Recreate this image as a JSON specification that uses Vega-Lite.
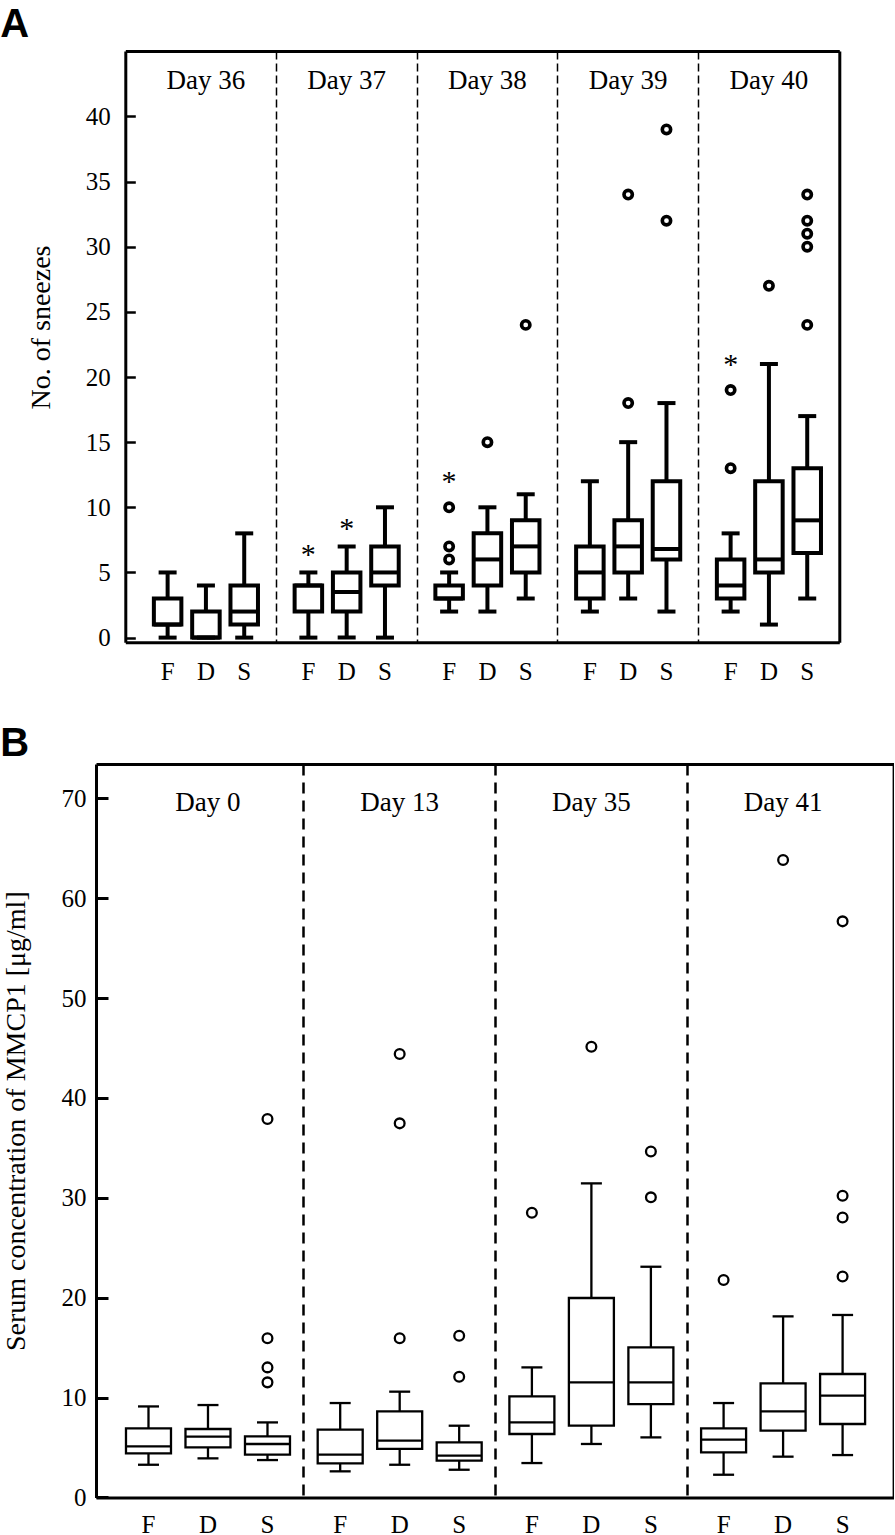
{
  "$schema": "https://vega.github.io/schema/vega-lite/v6.json",
  "background": "white",
  "padding": {"left": 0, "top": 4, "right": 0, "bottom": 0},
  "autosize": {"type": "pad"},
  "spacing": 38,
  "resolve": {"scale": {"x": "independent", "y": "independent", "xOffset": "independent"}},
  "config": {
    "view": {"stroke": null},
    "font": "Liberation Serif",
    "axis": {"labelFont": "Liberation Serif", "titleFont": "Liberation Serif", "labelColor": "black", "titleColor": "black", "domainColor": "black", "tickColor": "black", "titleFontWeight": "normal", "gridColor": "black", "gridOpacity": 1}
  },
  "datasets": {
    "boxesA": [
      {"day": "Day 36", "group": "F", "lower": 0, "q1": 1, "median": 1, "q3": 3, "upper": 5},
      {"day": "Day 36", "group": "D", "lower": 0, "q1": 0, "median": 0, "q3": 2, "upper": 4},
      {"day": "Day 36", "group": "S", "lower": 0, "q1": 1, "median": 2, "q3": 4, "upper": 8},
      {"day": "Day 37", "group": "F", "lower": 0, "q1": 2, "median": 4, "q3": 4, "upper": 5},
      {"day": "Day 37", "group": "D", "lower": 0, "q1": 2, "median": 3.5, "q3": 5, "upper": 7},
      {"day": "Day 37", "group": "S", "lower": 0, "q1": 4, "median": 5, "q3": 7, "upper": 10},
      {"day": "Day 38", "group": "F", "lower": 2, "q1": 3, "median": 3, "q3": 4, "upper": 5},
      {"day": "Day 38", "group": "D", "lower": 2, "q1": 4, "median": 6, "q3": 8, "upper": 10},
      {"day": "Day 38", "group": "S", "lower": 3, "q1": 5, "median": 7, "q3": 9, "upper": 11},
      {"day": "Day 39", "group": "F", "lower": 2, "q1": 3, "median": 5, "q3": 7, "upper": 12},
      {"day": "Day 39", "group": "D", "lower": 3, "q1": 5, "median": 7, "q3": 9, "upper": 15},
      {"day": "Day 39", "group": "S", "lower": 2, "q1": 6, "median": 6.8, "q3": 12, "upper": 18},
      {"day": "Day 40", "group": "F", "lower": 2, "q1": 3, "median": 4, "q3": 6, "upper": 8},
      {"day": "Day 40", "group": "D", "lower": 1, "q1": 5, "median": 6, "q3": 12, "upper": 21},
      {"day": "Day 40", "group": "S", "lower": 3, "q1": 6.5, "median": 9, "q3": 13, "upper": 17}
    ],
    "outliersA": [
      {"day": "Day 38", "group": "F", "value": 6},
      {"day": "Day 38", "group": "F", "value": 7},
      {"day": "Day 38", "group": "F", "value": 10},
      {"day": "Day 38", "group": "D", "value": 15},
      {"day": "Day 38", "group": "S", "value": 24},
      {"day": "Day 39", "group": "D", "value": 18},
      {"day": "Day 39", "group": "D", "value": 34},
      {"day": "Day 39", "group": "S", "value": 32},
      {"day": "Day 39", "group": "S", "value": 39},
      {"day": "Day 40", "group": "F", "value": 13},
      {"day": "Day 40", "group": "F", "value": 19},
      {"day": "Day 40", "group": "D", "value": 27},
      {"day": "Day 40", "group": "S", "value": 24},
      {"day": "Day 40", "group": "S", "value": 30},
      {"day": "Day 40", "group": "S", "value": 31},
      {"day": "Day 40", "group": "S", "value": 32},
      {"day": "Day 40", "group": "S", "value": 34}
    ],
    "starsA": [
      {"day": "Day 37", "group": "F", "top": 5, "anchor": "whisker"},
      {"day": "Day 37", "group": "D", "top": 7, "anchor": "whisker"},
      {"day": "Day 38", "group": "F", "top": 10, "anchor": "outlier"},
      {"day": "Day 40", "group": "F", "top": 19, "anchor": "outlier"}
    ],
    "boxesB": [
      {"day": "Day 0", "group": "F", "lower": 3.27, "q1": 4.41, "median": 5.11, "q3": 6.91, "upper": 9.11},
      {"day": "Day 0", "group": "D", "lower": 3.91, "q1": 5.01, "median": 6.08, "q3": 6.85, "upper": 9.25},
      {"day": "Day 0", "group": "S", "lower": 3.74, "q1": 4.28, "median": 5.35, "q3": 6.11, "upper": 7.51},
      {"day": "Day 13", "group": "F", "lower": 2.61, "q1": 3.41, "median": 4.28, "q3": 6.78, "upper": 9.45},
      {"day": "Day 13", "group": "D", "lower": 3.27, "q1": 4.85, "median": 5.68, "q3": 8.62, "upper": 10.59},
      {"day": "Day 13", "group": "S", "lower": 2.77, "q1": 3.68, "median": 4.18, "q3": 5.51, "upper": 7.18},
      {"day": "Day 35", "group": "F", "lower": 3.44, "q1": 6.35, "median": 7.51, "q3": 10.12, "upper": 13.02},
      {"day": "Day 35", "group": "D", "lower": 5.35, "q1": 7.18, "median": 11.52, "q3": 19.97, "upper": 31.45},
      {"day": "Day 35", "group": "S", "lower": 6.01, "q1": 9.35, "median": 11.52, "q3": 15.02, "upper": 23.1},
      {"day": "Day 41", "group": "F", "lower": 2.27, "q1": 4.51, "median": 5.78, "q3": 6.91, "upper": 9.45},
      {"day": "Day 41", "group": "D", "lower": 4.08, "q1": 6.68, "median": 8.61, "q3": 11.42, "upper": 18.13},
      {"day": "Day 41", "group": "S", "lower": 4.24, "q1": 7.35, "median": 10.19, "q3": 12.36, "upper": 18.27}
    ],
    "outliersB": [
      {"day": "Day 0", "group": "S", "value": 37.9},
      {"day": "Day 0", "group": "S", "value": 15.93},
      {"day": "Day 0", "group": "S", "value": 13.02},
      {"day": "Day 0", "group": "S", "value": 11.52},
      {"day": "Day 13", "group": "D", "value": 44.41},
      {"day": "Day 13", "group": "D", "value": 37.46},
      {"day": "Day 13", "group": "D", "value": 15.93},
      {"day": "Day 13", "group": "S", "value": 16.19},
      {"day": "Day 13", "group": "S", "value": 12.09},
      {"day": "Day 35", "group": "F", "value": 28.51},
      {"day": "Day 35", "group": "D", "value": 45.14},
      {"day": "Day 35", "group": "S", "value": 34.65},
      {"day": "Day 35", "group": "S", "value": 30.05},
      {"day": "Day 41", "group": "F", "value": 21.77},
      {"day": "Day 41", "group": "D", "value": 63.83},
      {"day": "Day 41", "group": "S", "value": 57.69},
      {"day": "Day 41", "group": "S", "value": 30.21},
      {"day": "Day 41", "group": "S", "value": 28.04},
      {"day": "Day 41", "group": "S", "value": 22.13}
    ]
  },
  "vconcat": [
    {
      "width": 743.3,
      "height": 591.3,
      "title": {"text": "A", "anchor": "start", "frame": "group", "font": "Liberation Sans", "fontSize": 40, "fontWeight": "bold", "color": "black", "dx": -95.7, "offset": -25.5, "baseline": "alphabetic"},
      "resolve": {"axis": {"x": "independent", "y": "independent"}},
      "layer": [
        {
          "data": {"name": "boxesA"},
          "mark": {"type": "rule", "strokeWidth": 4, "color": "black"},
          "encoding": {
            "x": {"field": "day", "type": "nominal", "sort": null,
              "scale": {"type": "band", "domain": ["Day 36", "Day 37", "Day 38", "Day 39", "Day 40"], "range": [29.3, 743.3], "paddingInner": 0, "paddingOuter": 0.0364, "align": 1},
              "axis": {"orient": "bottom", "title": null, "labels": false, "ticks": false, "domain": true, "domainWidth": 3, "grid": true, "gridDash": [8, 4], "gridWidth": 1.5, "bandPosition": 0, "values": ["Day 37", "Day 38", "Day 39", "Day 40"]}},
            "xOffset": {"field": "group", "type": "nominal", "sort": null, "scale": {"type": "band", "domain": ["F", "D", "S"], "paddingInner": 0, "paddingOuter": 0.3375}},
            "y": {"field": "lower", "type": "quantitative",
              "scale": {"domain": [-0.36, 45.02], "nice": false, "zero": false},
              "axis": {"orient": "left", "offset": -29.3, "values": [0, 5, 10, 15, 20, 25, 30, 35, 40], "tickSize": -10, "tickWidth": 2.5, "labelPadding": 25, "labelFontSize": 25, "domainWidth": 3, "grid": false, "title": "No. of sneezes", "titleFontSize": 28, "titlePadding": 30, "titleY": 276}},
            "y2": {"field": "upper"}
          }
        },
        {
          "data": {"name": "boxesA"},
          "mark": {"type": "bar", "width": 27.5, "fill": "white", "stroke": "black", "strokeWidth": 4},
          "encoding": {
            "x": {"field": "day", "type": "nominal", "sort": null,
              "scale": {"type": "band", "domain": ["Day 36", "Day 37", "Day 38", "Day 39", "Day 40"], "range": [29.3, 743.3], "paddingInner": 0, "paddingOuter": 0.0364, "align": 1},
              "axis": {"orient": "top", "title": null, "ticks": false, "tickSize": 0, "domain": true, "domainWidth": 3, "grid": false, "labelFontSize": 27, "labelPadding": -37, "labelBaseline": "alphabetic", "labelAngle": 0}},
            "xOffset": {"field": "group", "type": "nominal", "sort": null, "scale": {"type": "band", "domain": ["F", "D", "S"], "paddingInner": 0, "paddingOuter": 0.3375}},
            "y": {"field": "q1", "type": "quantitative",
              "scale": {"domain": [-0.36, 45.02], "nice": false, "zero": false},
              "axis": {"orient": "right", "title": null, "labels": false, "ticks": false, "domain": true, "domainWidth": 3, "grid": false}},
            "y2": {"field": "q3"}
          }
        },
        {
          "data": {"name": "boxesA"},
          "mark": {"type": "tick", "orient": "horizontal", "size": 28, "thickness": 4, "color": "black", "opacity": 1},
          "encoding": {
            "x": {"field": "day", "type": "nominal", "sort": null, "axis": null},
            "xOffset": {"field": "group", "type": "nominal", "sort": null},
            "y": {"field": "median", "type": "quantitative", "axis": null}
          }
        },
        {
          "data": {"name": "boxesA"},
          "mark": {"type": "tick", "orient": "horizontal", "size": 18, "thickness": 4, "color": "black", "opacity": 1},
          "encoding": {
            "x": {"field": "day", "type": "nominal", "sort": null, "axis": null},
            "xOffset": {"field": "group", "type": "nominal", "sort": null},
            "y": {"field": "lower", "type": "quantitative", "axis": null}
          }
        },
        {
          "data": {"name": "boxesA"},
          "mark": {"type": "tick", "orient": "horizontal", "size": 18, "thickness": 4, "color": "black", "opacity": 1},
          "encoding": {
            "x": {"field": "day", "type": "nominal", "sort": null, "axis": null},
            "xOffset": {"field": "group", "type": "nominal", "sort": null},
            "y": {"field": "upper", "type": "quantitative", "axis": null}
          }
        },
        {
          "data": {"name": "outliersA"},
          "mark": {"type": "point", "shape": "circle", "size": 70, "strokeWidth": 3.6, "filled": false, "color": "black", "opacity": 1},
          "encoding": {
            "x": {"field": "day", "type": "nominal", "sort": null, "axis": null},
            "xOffset": {"field": "group", "type": "nominal", "sort": null},
            "y": {"field": "value", "type": "quantitative", "axis": null}
          }
        },
        {
          "data": {"name": "boxesA"},
          "mark": {"type": "text", "fontSize": 25, "font": "Liberation Serif", "color": "black", "baseline": "alphabetic", "align": "center"},
          "encoding": {
            "x": {"field": "day", "type": "nominal", "sort": null, "axis": null},
            "xOffset": {"field": "group", "type": "nominal", "sort": null},
            "y": {"datum": -3.22, "type": "quantitative", "axis": null},
            "text": {"field": "group"}
          }
        },
        {
          "data": {"name": "starsA"},
          "transform": [{"filter": "datum.anchor === 'whisker'"}],
          "mark": {"type": "text", "text": "*", "fontSize": 30, "font": "Liberation Serif", "color": "black", "baseline": "alphabetic", "align": "center", "dy": -8},
          "encoding": {
            "x": {"field": "day", "type": "nominal", "sort": null, "axis": null},
            "xOffset": {"field": "group", "type": "nominal", "sort": null},
            "y": {"field": "top", "type": "quantitative", "axis": null}
          }
        },
        {
          "data": {"name": "starsA"},
          "transform": [{"filter": "datum.anchor === 'outlier'"}],
          "mark": {"type": "text", "text": "*", "fontSize": 30, "font": "Liberation Serif", "color": "black", "baseline": "alphabetic", "align": "center", "dy": -16},
          "encoding": {
            "x": {"field": "day", "type": "nominal", "sort": null, "axis": null},
            "xOffset": {"field": "group", "type": "nominal", "sort": null},
            "y": {"field": "top", "type": "quantitative", "axis": null}
          }
        }
      ]
    },
    {
      "width": 797.6,
      "height": 733.4,
      "title": {"text": "B", "anchor": "start", "frame": "group", "font": "Liberation Sans", "fontSize": 40, "fontWeight": "bold", "color": "black", "dx": -95.7, "offset": -31.9, "baseline": "alphabetic"},
      "resolve": {"axis": {"x": "independent", "y": "independent"}},
      "layer": [
        {
          "data": {"name": "boxesB"},
          "mark": {"type": "rule", "strokeWidth": 2.3, "color": "black"},
          "encoding": {
            "x": {"field": "day", "type": "nominal", "sort": null,
              "scale": {"type": "band", "domain": ["Day 0", "Day 13", "Day 35", "Day 41"], "paddingInner": 0, "paddingOuter": 0.0803, "align": 0.524},
              "axis": {"orient": "bottom", "title": null, "labels": false, "ticks": false, "domain": true, "domainWidth": 3, "grid": true, "gridDash": [11, 7], "gridWidth": 2.5, "bandPosition": 0, "values": ["Day 13", "Day 35", "Day 41"]}},
            "xOffset": {"field": "group", "type": "nominal", "sort": null, "scale": {"type": "band", "domain": ["F", "D", "S"], "paddingInner": 0, "paddingOuter": 0.111}},
            "y": {"field": "lower", "type": "quantitative",
              "scale": {"domain": [0, 73.45], "nice": false, "zero": false},
              "axis": {"orient": "left", "values": [0, 10, 20, 30, 40, 50, 60, 70], "tickSize": -12, "tickWidth": 3, "labelPadding": 22, "labelFontSize": 25, "domainWidth": 3, "grid": false, "title": "Serum concentration of MMCP1 [μg/ml]", "titleFontSize": 28, "titlePadding": 31, "titleY": 356.7}},
            "y2": {"field": "upper"}
          }
        },
        {
          "data": {"name": "boxesB"},
          "mark": {"type": "bar", "width": 45, "fill": "white", "stroke": "black", "strokeWidth": 2.3},
          "encoding": {
            "x": {"field": "day", "type": "nominal", "sort": null,
              "scale": {"type": "band", "domain": ["Day 0", "Day 13", "Day 35", "Day 41"], "paddingInner": 0, "paddingOuter": 0.0803, "align": 0.524},
              "axis": {"orient": "top", "title": null, "ticks": false, "tickSize": 0, "domain": true, "domainWidth": 3, "grid": false, "labelFontSize": 27, "labelPadding": -46, "labelBaseline": "alphabetic", "labelAngle": 0}},
            "xOffset": {"field": "group", "type": "nominal", "sort": null, "scale": {"type": "band", "domain": ["F", "D", "S"], "paddingInner": 0, "paddingOuter": 0.111}},
            "y": {"field": "q1", "type": "quantitative",
              "scale": {"domain": [0, 73.45], "nice": false, "zero": false},
              "axis": {"orient": "right", "title": null, "labels": false, "ticks": false, "domain": true, "domainWidth": 3, "grid": false}},
            "y2": {"field": "q3"}
          }
        },
        {
          "data": {"name": "boxesB"},
          "mark": {"type": "tick", "orient": "horizontal", "size": 45, "thickness": 2.3, "color": "black", "opacity": 1},
          "encoding": {
            "x": {"field": "day", "type": "nominal", "sort": null, "axis": null},
            "xOffset": {"field": "group", "type": "nominal", "sort": null},
            "y": {"field": "median", "type": "quantitative", "axis": null}
          }
        },
        {
          "data": {"name": "boxesB"},
          "mark": {"type": "tick", "orient": "horizontal", "size": 21, "thickness": 2.3, "color": "black", "opacity": 1},
          "encoding": {
            "x": {"field": "day", "type": "nominal", "sort": null, "axis": null},
            "xOffset": {"field": "group", "type": "nominal", "sort": null},
            "y": {"field": "lower", "type": "quantitative", "axis": null}
          }
        },
        {
          "data": {"name": "boxesB"},
          "mark": {"type": "tick", "orient": "horizontal", "size": 21, "thickness": 2.3, "color": "black", "opacity": 1},
          "encoding": {
            "x": {"field": "day", "type": "nominal", "sort": null, "axis": null},
            "xOffset": {"field": "group", "type": "nominal", "sort": null},
            "y": {"field": "upper", "type": "quantitative", "axis": null}
          }
        },
        {
          "data": {"name": "outliersB"},
          "mark": {"type": "point", "shape": "circle", "size": 95, "strokeWidth": 2.3, "filled": false, "color": "black", "opacity": 1},
          "encoding": {
            "x": {"field": "day", "type": "nominal", "sort": null, "axis": null},
            "xOffset": {"field": "group", "type": "nominal", "sort": null},
            "y": {"field": "value", "type": "quantitative", "axis": null}
          }
        },
        {
          "data": {"name": "boxesB"},
          "mark": {"type": "text", "fontSize": 25, "font": "Liberation Serif", "color": "black", "baseline": "alphabetic", "align": "center"},
          "encoding": {
            "x": {"field": "day", "type": "nominal", "sort": null, "axis": null},
            "xOffset": {"field": "group", "type": "nominal", "sort": null},
            "y": {"datum": -3.55, "type": "quantitative", "axis": null},
            "text": {"field": "group"}
          }
        }
      ]
    }
  ]
}
